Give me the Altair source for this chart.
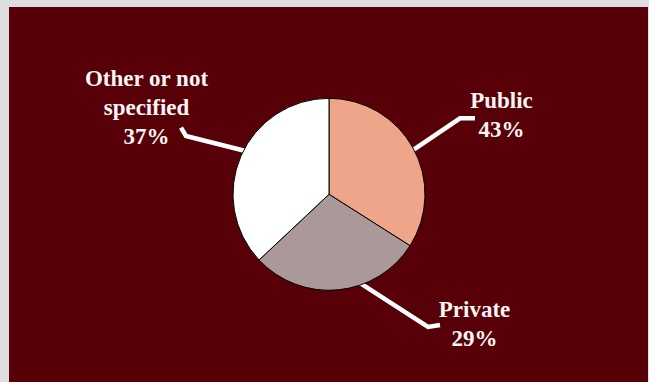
import altair as alt
import pandas as pd

# Slice data (wedge sizes, labels as printed)
categories = ["Public", "Private", "Other or not specified"]
shares = [34, 29, 37]
label_texts = ["Public\n43%", "Private\n29%", "Other or not\nspecified\n37%"]
slice_colors = ["#efa589", "#ab9899", "#ffffff"]

# Annotation geometry, in pixel offsets from pie centre (y up)
label_x = [172.5, 145.5, -182.5]
label_y = [86.3, -122.7, 108.3]
leader_pts = {
    "Public": [(81, 42.1), (131, 76), (146, 76)],
    "Private": [(27.3, -86.4), (99, -132.7), (111, -130.7)],
    "Other or not specified": [(-148, 66.6), (-143, 58.3), (-79.5, 42.3)],
}

pie_df = pd.DataFrame({"cat": categories, "share": shares,
                       "idx": list(range(len(categories))), "cx": 0.0, "cy": 0.0})
lab_df = pd.DataFrame({"cat": categories, "txt": label_texts, "lx": label_x, "ly": label_y})
rows = []
for c, pts in leader_pts.items():
    for i, (px, py) in enumerate(pts):
        rows.append({"cat": c, "i": i, "px": px, "py": py})
lead_df = pd.DataFrame(rows)

xs = alt.Scale(domain=[-320, 319], nice=False, zero=False)
ys = alt.Scale(domain=[-187.7, 187.3], nice=False, zero=False)

leaders = alt.Chart(lead_df).mark_line(
    color="white", strokeWidth=4.5, strokeCap="butt", strokeJoin="miter"
).encode(
    x=alt.X("px:Q", scale=xs, axis=None),
    y=alt.Y("py:Q", scale=ys, axis=None),
    detail="cat:N",
    order="i:Q",
)

pie = alt.Chart(pie_df).mark_arc(outerRadius=96, stroke="black", strokeWidth=1).encode(
    theta=alt.Theta("share:Q", stack=True),
    order=alt.Order("idx:Q"),
    color=alt.Color("cat:N", scale=alt.Scale(domain=categories, range=slice_colors), legend=None),
    x=alt.X("cx:Q", scale=xs, axis=None),
    y=alt.Y("cy:Q", scale=ys, axis=None),
)

labels = alt.Chart(lab_df).mark_text(
    font="Liberation Serif", fontWeight="bold", fontSize=23, color="#fbf5f5",
    align="center", baseline="alphabetic", lineBreak="\n", lineHeight=29,
).encode(
    x=alt.X("lx:Q", scale=xs, axis=None),
    y=alt.Y("ly:Q", scale=ys, axis=None),
    text="txt:N",
)

chart = alt.layer(leaders, pie, labels).properties(
    width=639, height=375,
    autosize=alt.AutoSizeParams(type="none"),
    padding={"left": 9, "top": 7, "right": 1, "bottom": 0},
    background="#dedede",
).configure_view(fill="#570007", stroke=None)

chart.save("out.html", embed_options={"renderer": "svg", "actions": False})
